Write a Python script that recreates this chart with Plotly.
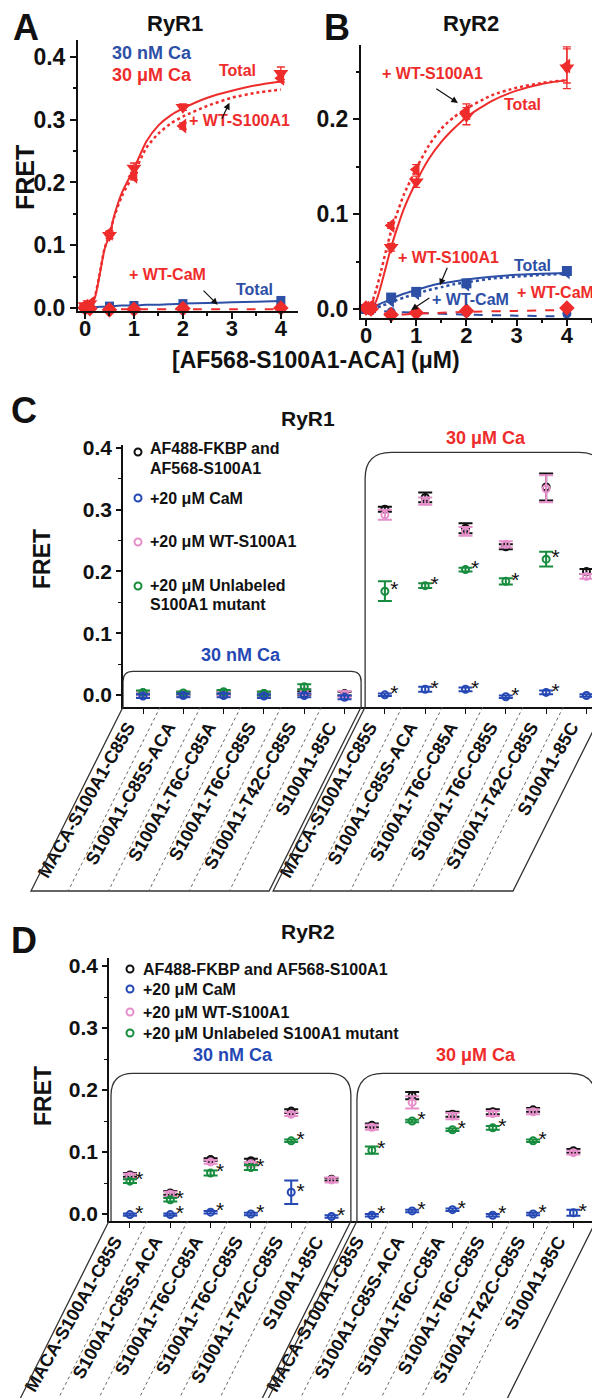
import plotly.graph_objects as go

W, H = 600, 1398
FONT = "Liberation Sans, Arial, Helvetica, sans-serif"
RED = "#ee2c2c"
BLUE = "#2d4fa6"
BLACK = "#111111"
PINK = "#e68fca"
GREEN = "#178c3e"
CBLUE = "#2548b4"

# ---------------- Panels A/B : titrations ----------------
conc = [0, 0.1, 0.5, 1, 2, 4]
fit_x = [0, 0.1, 0.2, 0.3, 0.4, 0.5, 0.6, 0.75, 1.0, 1.25, 1.5, 1.75, 2.0, 2.5, 3.0, 3.5, 4.0]
line_x = [0, 0.5, 1, 2, 3, 4]

# RyR1 (A)
a_total_uM = [0.004, 0.007, 0.116, 0.223, 0.320, 0.374]
a_total_uM_err = [0.003, 0.003, 0.005, 0.008, 0.005, 0.010]
a_s100_uM = [0.003, 0.006, 0.119, 0.210, 0.290, 0.366]
a_s100_uM_err = [0.003, 0.003, 0.004, 0.006, 0.005, 0.006]
a_total_nM = [0.000, 0.001, 0.003, 0.004, 0.007, 0.012]
a_cam_uM = [0.000, -0.001, -0.003, -0.002, -0.001, 0.000]
a_fit_total_uM = [0.002, 0.004, 0.016, 0.053, 0.094, 0.116, 0.148, 0.183, 0.222, 0.265, 0.291,
                  0.307, 0.318, 0.335, 0.346, 0.355, 0.361]
a_fit_s100_uM = [0.002, 0.004, 0.018, 0.055, 0.095, 0.118, 0.146, 0.178, 0.214, 0.255, 0.278,
                 0.294, 0.305, 0.322, 0.335, 0.343, 0.348]
a_fit_total_nM = [0.000, 0.001, 0.001, 0.002, 0.002, 0.003, 0.003, 0.004, 0.004, 0.005, 0.005,
                  0.006, 0.007, 0.008, 0.009, 0.010, 0.011]
a_line_cam_uM = [-0.002, -0.002, -0.002, -0.002, -0.002, -0.002]

# RyR2 (B)
b_total_uM = [0.000, 0.002, 0.065, 0.134, 0.203, 0.254]
b_total_uM_err = [0.002, 0.002, 0.004, 0.006, 0.009, 0.022]
b_s100_uM = [0.001, 0.003, 0.088, 0.147, 0.208, 0.256]
b_s100_uM_err = [0.002, 0.002, 0.003, 0.005, 0.008, 0.018]
b_total_nM = [0.000, 0.001, 0.012, 0.018, 0.027, 0.040]
b_s100_nM = [0.000, 0.000, 0.008, 0.016, 0.025, 0.038]
b_cam_nM = [0.000, -0.001, -0.003, -0.003, -0.004, -0.005]
b_cam_uM = [0.001, 0.000, -0.006, -0.004, -0.002, 0.001]
b_fit_total_uM = [0.000, 0.001, 0.008, 0.025, 0.045, 0.065, 0.082, 0.105, 0.134, 0.158, 0.176,
                  0.190, 0.202, 0.219, 0.230, 0.237, 0.241]
b_fit_s100_uM = [0.000, 0.005, 0.020, 0.040, 0.062, 0.082, 0.098, 0.120, 0.148, 0.172, 0.190,
                 0.202, 0.211, 0.225, 0.233, 0.238, 0.241]
b_fit_total_nM = [0.000, 0.001, 0.003, 0.006, 0.008, 0.011, 0.013, 0.016, 0.020, 0.024, 0.027,
                  0.029, 0.031, 0.034, 0.036, 0.037, 0.038]
b_fit_s100_nM = [0.000, 0.000, 0.001, 0.003, 0.005, 0.007, 0.009, 0.012, 0.016, 0.020, 0.023,
                 0.026, 0.028, 0.032, 0.034, 0.036, 0.037]
b_line_cam_nM = [-0.001, -0.003, -0.004, -0.006, -0.007, -0.008]
b_line_cam_uM = [-0.001, -0.006, -0.005, -0.003, -0.002, -0.001]

# ---------------- Panels C/D : mutant comparisons ----------------
mutants = ["MACA-S100A1-C85S", "S100A1-C85S-ACA", "S100A1-T6C-C85A",
           "S100A1-T6C-C85S", "S100A1-T42C-C85S", "S100A1-85C"]
categories = mutants + mutants  # 30 nM Ca group, then 30 uM Ca group

c_fret = [0.003, 0.002, 0.003, 0.002, 0.003, 0.002, 0.301, 0.320, 0.270, 0.240, 0.337, 0.200]
c_fret_err = [0.003, 0.003, 0.003, 0.003, 0.003, 0.003, 0.004, 0.008, 0.008, 0.004, 0.022, 0.004]
c_cam = [-0.002, -0.001, -0.001, -0.002, -0.001, -0.004, 0.000, 0.009, 0.009, -0.003, 0.004, -0.001]
c_cam_err = [0.003, 0.003, 0.003, 0.003, 0.003, 0.003, 0.002, 0.004, 0.003, 0.002, 0.003, 0.002]
c_wt = [0.002, 0.002, 0.002, 0.001, 0.005, 0.001, 0.292, 0.314, 0.265, 0.244, 0.334, 0.192]
c_wt_err = [0.003, 0.003, 0.003, 0.003, 0.004, 0.005, 0.008, 0.006, 0.007, 0.005, 0.022, 0.004]
c_unl = [0.004, 0.003, 0.005, 0.002, 0.013, None, 0.168, 0.177, 0.203, 0.184, 0.220, None]
c_unl_err = [0.003, 0.002, 0.003, 0.003, 0.004, 0, 0.016, 0.004, 0.003, 0.005, 0.012, 0]
c_cam_sig = [0, 0, 0, 0, 0, 0, 1, 1, 1, 1, 1, 1]
c_unl_sig = [0, 0, 0, 0, 0, 0, 1, 1, 1, 1, 1, 0]

d_fret = [0.063, 0.034, 0.088, 0.086, 0.166, 0.056, 0.143, 0.191, 0.161, 0.165, 0.168, 0.102]
d_fret_err = [0.003, 0.003, 0.002, 0.003, 0.003, 0.002, 0.003, 0.006, 0.004, 0.004, 0.003, 0.003]
d_cam = [-0.001, -0.001, 0.003, 0.000, 0.035, -0.004, -0.002, 0.005, 0.007, -0.002, 0.000, 0.002]
d_cam_err = [0.002, 0.002, 0.002, 0.002, 0.019, 0.002, 0.002, 0.002, 0.002, 0.002, 0.002, 0.005]
d_wt = [0.061, 0.032, 0.084, 0.081, 0.161, 0.055, 0.140, 0.180, 0.158, 0.162, 0.165, 0.099]
d_wt_err = [0.004, 0.004, 0.003, 0.003, 0.003, 0.004, 0.004, 0.010, 0.005, 0.004, 0.004, 0.003]
d_unl = [0.053, 0.023, 0.066, 0.075, 0.118, None, 0.103, 0.150, 0.136, 0.139, 0.118, None]
d_unl_err = [0.003, 0.003, 0.004, 0.004, 0.002, 0, 0.006, 0.002, 0.002, 0.003, 0.002, 0]
d_cam_sig = [1, 1, 1, 1, 1, 1, 1, 1, 1, 1, 1, 1]
d_unl_sig = [1, 1, 1, 1, 1, 0, 1, 1, 1, 1, 1, 0]

legend_C = ["AF488-FKBP and|AF568-S100A1", "+20 μM CaM", "+20 μM WT-S100A1",
            "+20 μM Unlabeled|S100A1 mutant"]
legend_D = ["AF488-FKBP and AF568-S100A1", "+20 μM CaM", "+20 μM WT-S100A1",
            "+20 μM Unlabeled S100A1 mutant"]
legend_colors = [BLACK, CBLUE, PINK, GREEN]

# ---------------- Geometry (pixel layout of each subplot) ----------------
GEOM = {
    "A": dict(x0=70, x1=290, y0=32, y1=303, xr=[-0.143, 4.35], yr=[-0.0048, 0.427]),
    "B": dict(x0=353, x1=585, y0=37, y1=310, xr=[-0.10, 4.52], yr=[-0.0095, 0.278]),
    "C": dict(x0=115, x1=597, y0=437, y1=699, xr=[-0.496, 11.46], yr=[-0.0197, 0.405]),
    "D": dict(x0=101, x1=588, y0=950, y1=1213, xr=[-0.52, 11.56], yr=[-0.0113, 0.413]),
}
AX = {"A": ("x", "y"), "B": ("x2", "y2"), "C": ("x3", "y3"), "D": ("x4", "y4")}


def px2paper(px, py):
    return px / W, 1 - py / H


def data2px(p, xv, yv):
    g = GEOM[p]
    px = g["x0"] + (xv - g["xr"][0]) / (g["xr"][1] - g["xr"][0]) * (g["x1"] - g["x0"])
    py = g["y1"] - (yv - g["yr"][0]) / (g["yr"][1] - g["yr"][0]) * (g["y1"] - g["y0"])
    return px, py


fig = go.Figure()


def line_trace(p, xs, ys, color, dash="solid", width=2):
    xa, ya = AX[p]
    fig.add_trace(go.Scatter(x=xs, y=ys, mode="lines", line=dict(color=color, width=width, dash=dash,
                                                                shape="spline", smoothing=0.6),
                             xaxis=xa, yaxis=ya, showlegend=False, hoverinfo="skip"))


def marker_trace(p, xs, ys, color, symbol, size, err=None):
    xa, ya = AX[p]
    kw = {}
    if err is not None:
        kw["error_y"] = dict(type="data", array=err, color=color, thickness=1.3, width=4)
    fig.add_trace(go.Scatter(x=xs, y=ys, mode="markers",
                             marker=dict(color=color, symbol=symbol, size=size, line=dict(width=0)),
                             xaxis=xa, yaxis=ya, showlegend=False, cliponaxis=False, **kw))


# Panel A
line_trace("A", fit_x, a_fit_total_nM, BLUE)
line_trace("A", line_x, a_line_cam_uM, RED, dash="dash")
line_trace("A", fit_x, a_fit_s100_uM, RED, dash="dot", width=2.5)
line_trace("A", fit_x, a_fit_total_uM, RED)
marker_trace("A", conc, a_total_nM, BLUE, "square", 9)
marker_trace("A", conc, a_cam_uM, RED, "diamond", 12)
marker_trace("A", conc, a_s100_uM, RED, "triangle-left", 13, a_s100_uM_err)
marker_trace("A", conc, a_total_uM, RED, "triangle-down", 13, a_total_uM_err)

# Panel B
line_trace("B", line_x, b_line_cam_nM, BLUE, dash="dash")
line_trace("B", line_x, b_line_cam_uM, RED, dash="dash")
line_trace("B", fit_x, b_fit_s100_nM, BLUE, dash="dot", width=2.5)
line_trace("B", fit_x, b_fit_total_nM, BLUE)
line_trace("B", fit_x, b_fit_s100_uM, RED, dash="dot", width=2.5)
line_trace("B", fit_x, b_fit_total_uM, RED)
marker_trace("B", conc, b_cam_nM, BLUE, "circle", 9)
marker_trace("B", conc, b_s100_nM, BLUE, "triangle-left", 11)
marker_trace("B", conc, b_total_nM, BLUE, "square", 10)
marker_trace("B", conc, b_cam_uM, RED, "diamond", 12)
marker_trace("B", conc, b_s100_uM, RED, "triangle-left", 13, b_s100_uM_err)
marker_trace("B", conc, b_total_uM, RED, "triangle-down", 13, b_total_uM_err)


def cat_series(p, vals, errs, color, sig):
    xa, ya = AX[p]
    xs, ys, es, tx = [], [], [], []
    for i, v in enumerate(vals):
        if v is None:
            continue
        xs.append(i)
        ys.append(v)
        es.append(errs[i])
        tx.append("*" if (sig is not None and sig[i]) else "")
    fig.add_trace(go.Scatter(
        x=xs, y=ys, mode="markers+text", text=tx, textposition="middle right",
        textfont=dict(color=BLACK, size=21, family=FONT),
        marker=dict(symbol="circle-open", size=7, color=color, line=dict(width=2, color=color)),
        error_y=dict(type="data", array=es, color=color, thickness=2, width=7),
        xaxis=xa, yaxis=ya, cliponaxis=False, showlegend=False))


cat_series("C", c_fret, c_fret_err, BLACK, None)
cat_series("C", c_wt, c_wt_err, PINK, None)
cat_series("C", c_unl, c_unl_err, GREEN, c_unl_sig)
cat_series("C", c_cam, c_cam_err, CBLUE, c_cam_sig)

cat_series("D", d_fret, d_fret_err, BLACK, None)
cat_series("D", d_wt, d_wt_err, PINK, None)
cat_series("D", d_unl, d_unl_err, GREEN, d_unl_sig)
cat_series("D", d_cam, d_cam_err, CBLUE, d_cam_sig)

# ---------------- Axes ----------------
def dom(p):
    g = GEOM[p]
    return [g["x0"] / W, g["x1"] / W], [1 - g["y1"] / H, 1 - g["y0"] / H]


common = dict(showgrid=False, zeroline=False, showline=True, linecolor=BLACK, ticks="outside",
              tickcolor=BLACK, automargin=False, fixedrange=True)

for p, n in [("A", ""), ("B", "2")]:
    xd, yd = dom(p)
    g = GEOM[p]
    fig.layout["xaxis" + n] = dict(common, domain=xd, range=g["xr"], anchor="y" + n, linewidth=2,
                                  tickvals=[0, 1, 2, 3, 4], ticklen=6, tickwidth=2,
                                  ticklabelstandoff=-9,
                                  tickfont=dict(size=22, family=FONT, weight="bold", color=BLACK),
                                  minor=dict(ticks="outside", dtick=0.5, ticklen=3, tickwidth=1.5,
                                             tickcolor=BLACK))
    yt = [0, 0.1, 0.2, 0.3, 0.4] if p == "A" else [0, 0.1, 0.2]
    fig.layout["yaxis" + n] = dict(common, domain=yd, range=g["yr"], anchor="x" + n, linewidth=2,
                                  tickvals=yt, ticktext=["%.1f" % v for v in yt], ticklen=6, tickwidth=2,
                                  tickfont=dict(size=23, family=FONT, weight="bold", color=BLACK),
                                  minor=dict(ticks="outside", dtick=0.05, ticklen=3, tickwidth=1.5,
                                             tickcolor=BLACK))

for p, n in [("C", "3"), ("D", "4")]:
    xd, yd = dom(p)
    g = GEOM[p]
    fig.layout["xaxis" + n] = dict(common, domain=xd, range=g["xr"], anchor="y" + n, linewidth=1.5,
                                  tickvals=list(range(12)), ticktext=categories, tickangle=-60,
                                  ticklen=5, tickwidth=1.2, ticklabelshift=-15, ticklabelstandoff=-4,
                                  tickfont=dict(size=18, family=FONT, weight="bold", color=BLACK))
    yt = [0, 0.1, 0.2, 0.3, 0.4]
    fig.layout["yaxis" + n] = dict(common, domain=yd, range=g["yr"], anchor="x" + n, linewidth=1.5,
                                  tickvals=yt, ticktext=["%.1f" % v for v in yt], ticklen=5, tickwidth=1.5,
                                  tickfont=dict(size=21, family=FONT, weight="bold", color=BLACK),
                                  minor=dict(ticks="outside", dtick=0.05, ticklen=3, tickwidth=1.2,
                                             tickcolor=BLACK))

# ---------------- Shapes: rounded group boxes and slanted label boxes ----------------
shapes = []


def P(px, py):
    a, b = px2paper(px, py)
    return "%.5f,%.5f" % (a, b)


def rounded_box(p, xl, xr_, ytop, r):
    g = GEOM[p]
    x0, yt = data2px(p, xl, ytop)
    x1, _ = data2px(p, xr_, ytop)
    yb = g["y1"]
    path = ("M " + P(x0, yb) + " L " + P(x0, yt + r) + " Q " + P(x0, yt) + " " + P(x0 + r, yt) +
            " L " + P(x1 - r, yt) + " Q " + P(x1, yt) + " " + P(x1, yt + r) + " L " + P(x1, yb))
    shapes.append(dict(type="path", path=path, xref="paper", yref="paper",
                       line=dict(color="#333333", width=1.3), layer="below"))


def slanted_groups(p, groups, bottom, shift):
    g = GEOM[p]
    yt = g["y1"]
    for (a, b) in groups:
        xa, _ = data2px(p, a, 0)
        xb, _ = data2px(p, b, 0)
        path = ("M " + P(xa, yt) + " L " + P(xa + shift, bottom) + " L " + P(xb + shift, bottom) +
                " L " + P(xb, yt))
        shapes.append(dict(type="path", path=path, xref="paper", yref="paper",
                           line=dict(color="#333333", width=1.3)))
    for k in [0, 1, 2, 3, 4, 6, 7, 8, 9, 10]:
        xm, _ = data2px(p, k + 0.5, 0)
        x0, y0 = px2paper(xm - 3, yt)
        x1, y1 = px2paper(xm - 3 + shift, bottom)
        shapes.append(dict(type="line", x0=x0, y0=y0, x1=x1, y1=y1, xref="paper", yref="paper",
                           line=dict(color="#555555", width=0.9, dash="dot")))


gC, gD = GEOM["C"], GEOM["D"]
rounded_box("C", gC["xr"][0], 5.41, 0.038, 10)
rounded_box("C", 5.51, gC["xr"][1], 0.393, 26)
rounded_box("D", -0.47, 5.48, 0.227, 22)
rounded_box("D", 5.63, gD["xr"][1], 0.227, 26)
slanted_groups("C", [(gC["xr"][0], 5.41), (5.51, gC["xr"][1])], 883, -92)
slanted_groups("D", [(gD["xr"][0], 5.48), (5.63, gD["xr"][1])], 1395, -91)

# ---------------- Annotations ----------------
ann = []


def txt(px, py, text, size, color=BLACK, angle=0, xanchor="center"):
    x, y = px2paper(px, py)
    ann.append(dict(x=x, y=y, xref="paper", yref="paper", text="<b>" + text + "</b>", showarrow=False,
                    font=dict(size=size, color=color, family=FONT), textangle=angle,
                    xanchor=xanchor, yanchor="middle"))


def dtxt(p, xv, yv, text, size, color, xanchor="center"):
    xa, ya = AX[p]
    ann.append(dict(x=xv, y=yv, xref=xa, yref=ya, text="<b>" + text + "</b>", showarrow=False,
                    font=dict(size=size, color=color, family=FONT), xanchor=xanchor, yanchor="middle"))


def arrow(p, x_tail, y_tail, x_head, y_head):
    xa, ya = AX[p]
    ann.append(dict(x=x_head, y=y_head, ax=x_tail, ay=y_tail, xref=xa, yref=ya, axref=xa, ayref=ya,
                    text="", showarrow=True, arrowhead=2, arrowsize=1.1, arrowwidth=1.2,
                    arrowcolor=BLACK, standoff=0))


def manual_legend(mx, text_x, rows):
    # rows: list of (marker_y, [(line_y, text)], color)
    for my, lines, color in rows:
        x0, y0 = px2paper(mx - 3.5, my + 3.5)
        x1, y1 = px2paper(mx + 3.5, my - 3.5)
        shapes.append(dict(type="circle", xref="paper", yref="paper", x0=x0, y0=y0, x1=x1, y1=y1,
                           line=dict(color=color, width=2), fillcolor="white"))
        for ly, t in lines:
            txt(text_x, ly, t, 16, BLACK, xanchor="left")


# panel letters / titles
txt(18, 19, "A", 36)
txt(167, 16, "RyR1", 22)
txt(329, 19, "B", 36)
txt(463, 16, "RyR2", 22)
txt(17, 170, "FRET", 25, angle=-90)
txt(308, 352, "[AF568-S100A1-ACA] (μM)", 23)

dtxt("A", 0.52, 0.406, "30 nM Ca", 18, BLUE, "left")
dtxt("A", 0.52, 0.371, "30 μM Ca", 18, RED, "left")
dtxt("A", 3.12, 0.378, "Total", 16, RED)
dtxt("A", 3.16, 0.298, "+ WT-S100A1", 16, RED)
arrow("A", 2.78, 0.299, 2.95, 0.327)
dtxt("A", 1.69, 0.053, "+ WT-CaM", 16, RED)
dtxt("A", 3.47, 0.029, "Total", 16, BLUE)
arrow("A", 2.39, 0.030, 2.71, 0.005)

dtxt("B", 1.33, 0.248, "+ WT-S100A1", 16, RED)
arrow("B", 1.37, 0.233, 1.83, 0.217)
dtxt("B", 3.12, 0.215, "Total", 16, RED)
dtxt("B", 1.65, 0.054, "+ WT-S100A1", 16, RED)
arrow("B", 1.63, 0.045, 1.47, 0.025)
dtxt("B", 3.32, 0.046, "Total", 16, BLUE)
dtxt("B", 2.09, 0.0095, "+ WT-CaM", 16, BLUE)
arrow("B", 1.29, 0.0126, 0.90, -0.001)
dtxt("B", 3.78, 0.017, "+ WT-CaM", 16, RED)

txt(16, 402, "C", 36)
txt(300, 410, "RyR1", 21)
txt(34, 551, "FRET", 23, angle=-90)
txt(478, 430, "30 μM Ca", 18, RED)
txt(233, 647, "30 nM Ca", 18, CBLUE)

txt(16, 932, "D", 36)
txt(300, 923, "RyR2", 21)
txt(35, 1088, "FRET", 23, angle=-90)
txt(225, 1047, "30 nM Ca", 18, CBLUE)
txt(468, 1047, "30 μM Ca", 18, RED)

# legends (C: two-line entries, D: single line)
c_rows = []
for (my, lys), label, col in zip([(444, [440, 460]), (490, [490]), (534, [534]), (578, [577, 596])],
                                 legend_C, legend_colors):
    parts = label.split("|")
    c_rows.append((my, list(zip(lys, parts)), col))
manual_legend(130, 140, c_rows)

d_rows = []
for my, label, col in zip([961, 981, 1004, 1025], legend_D, legend_colors):
    d_rows.append((my, [(my, label)], col))
manual_legend(122, 133, d_rows)

fig.update_layout(
    width=W, height=H, margin=dict(l=0, r=0, t=0, b=0), autosize=False,
    paper_bgcolor="white", plot_bgcolor="white",
    font=dict(family=FONT, color=BLACK),
    shapes=shapes, annotations=ann, showlegend=False,
)

fig.write_html("out.html")
